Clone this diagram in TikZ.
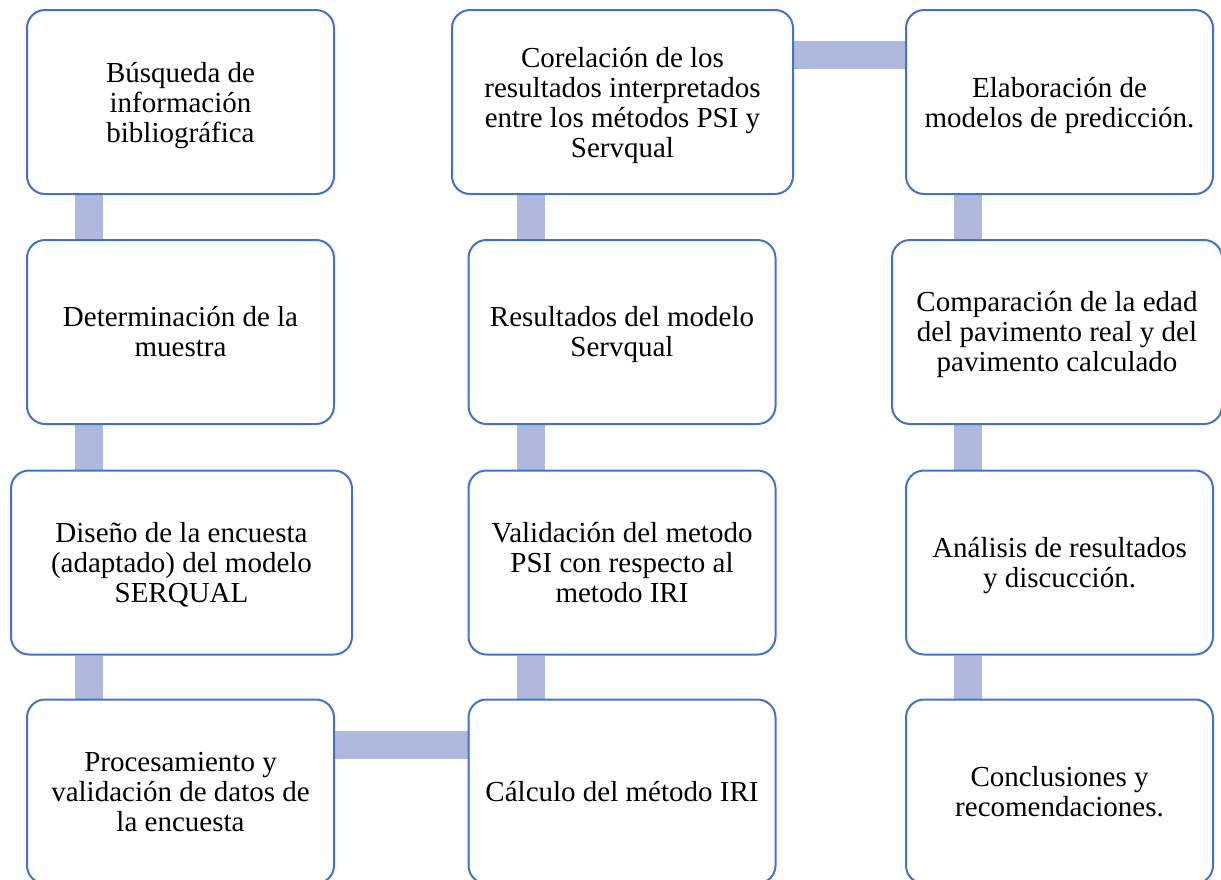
\documentclass[tikz,border=0pt]{standalone}
\usepackage{fontspec}
\setmainfont{Liberation Serif}
\usetikzlibrary{backgrounds}
\definecolor{boxblue}{HTML}{4472C4}
\definecolor{barblue}{HTML}{AEB9DD}
\newcommand\boxlines[2][3.5pt]{\raisebox{\dimexpr -0.5\height+0.5\depth-#1\relax}[0pt][0pt]{\begin{tabular}[b]{@{}c@{}}#2\end{tabular}}}
\begin{document}
\begin{tikzpicture}[x=1pt,y=-1pt,
  stepbox/.style={draw=boxblue, line width=2pt, fill=white, rounded corners=18pt,
    minimum width=307pt, minimum height=184pt, inner sep=0pt,
    font=\fontsize{29}{30}\selectfont},
  widebox/.style={stepbox, minimum width=341pt},
  bar/.style={draw=barblue, line width=28pt}]
\useasboundingbox (0,0) rectangle (1221,879);
\clip (0,0) rectangle (1221,879);
% column 1
\node[stepbox] (a1) at (180.5,102) {\boxlines[4pt]{Búsqueda de\\información\\bibliográfica}};
\node[stepbox] (a2) at (180.5,332) {\boxlines{Determinación de la\\muestra}};
\node[widebox] (a3) at (181.5,562.5) {\boxlines{Diseño de la encuesta\\(adaptado) del modelo\\SERQUAL}};
\node[stepbox] (a4) at (180.5,791.5) {\boxlines{Procesamiento y\\validación de datos de\\la encuesta}};
% column 2
\node[widebox] (b1) at (622.5,102) {\boxlines[4pt]{Corelación de los\\resultados interpretados\\entre los métodos PSI y\\Servqual}};
\node[stepbox] (b2) at (622,332) {\boxlines{Resultados del modelo\\Servqual}};
\node[stepbox] (b3) at (622,562.5) {\boxlines{Validación del metodo\\PSI con respecto al\\metodo IRI}};
\node[stepbox] (b4) at (622,791.5) {\boxlines{Cálculo del método IRI}};
% column 3
\node[stepbox] (c1) at (1059.5,102) {\boxlines[4pt]{Elaboración de\\modelos de predicción.}};
\node[widebox, minimum width=330pt] (c2) at (1057,332) {\boxlines{Comparación de la edad\\del pavimento real y del\\pavimento calculado}};
\node[stepbox] (c3) at (1059.5,562.5) {\boxlines{Análisis de resultados\\y discucción.}};
\node[stepbox] (c4) at (1059.5,791.5) {\boxlines{Conclusiones y\\recomendaciones.}};
\begin{pgfonlayer}{background}
  % vertical bars, column 1
  \draw[bar] ([xshift=63pt]a1.south west) -- ([xshift=63pt]a1.south west |- a2.north);
  \draw[bar] ([xshift=63pt]a2.south west) -- ([xshift=63pt]a2.south west |- a3.north);
  \draw[bar] ([xshift=63pt]a2.south west |- a3.south) -- ([xshift=63pt]a4.north west);
  % bottom horizontal bar
  \draw[bar] ([yshift=-46pt]a4.north east) -- ([yshift=-46pt]a4.north east -| b4.west);
  % vertical bars, column 2
  \draw[bar] ([xshift=63pt]b4.north west) -- ([xshift=63pt]b4.north west |- b3.south);
  \draw[bar] ([xshift=63pt]b3.north west) -- ([xshift=63pt]b3.north west |- b2.south);
  \draw[bar] ([xshift=63pt]b2.north west) -- ([xshift=63pt]b2.north west |- b1.south);
  % top horizontal bar
  \draw[bar] ([yshift=-46pt]b1.north east) -- ([yshift=-46pt]b1.north east -| c1.west);
  % vertical bars, column 3
  \draw[bar] ([xshift=63pt]c1.south west) -- ([xshift=63pt]c1.south west |- c2.north);
  \draw[bar] ([xshift=63pt]c1.south west |- c2.south) -- ([xshift=63pt]c3.north west);
  \draw[bar] ([xshift=63pt]c3.south west) -- ([xshift=63pt]c4.north west);
\end{pgfonlayer}
\end{tikzpicture}
\end{document}
